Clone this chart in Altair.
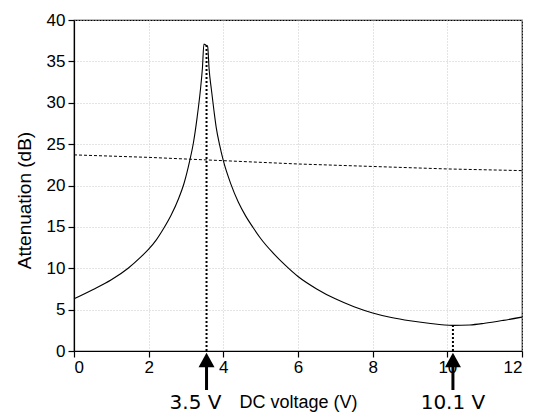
import altair as alt
import pandas as pd

# Measured attenuation curve (solid)
volt = [0.0, 0.5, 1.0, 1.45, 1.8, 2.0, 2.2, 2.4, 2.6, 2.8, 2.95, 3.1, 3.2, 3.3, 3.38, 3.44,
        3.48, 3.52, 3.58, 3.62, 3.68, 3.75, 3.81, 3.9, 4.0, 4.2, 4.4, 4.6, 4.8, 5.0, 5.3, 5.65,
        6.0, 6.5, 7.0, 7.5, 8.0, 8.5, 9.0, 9.5, 10.15, 10.6, 11.0, 11.5, 12.0]
atten = [6.3, 7.4, 8.6, 10.0, 11.4, 12.3, 13.4, 14.8, 16.4, 18.4, 20.3, 23.0, 25.2, 28.3, 31.3, 34.2,
         37.1, 37.0, 36.8, 34.0, 31.6, 29.0, 27.0, 24.9, 23.0, 20.2, 18.0, 16.3, 14.9, 13.6, 12.0, 10.4,
         9.0, 7.5, 6.3, 5.35, 4.6, 4.05, 3.65, 3.35, 3.1, 3.15, 3.35, 3.7, 4.1]

# Reference (dashed) curve
ref_volt = [0, 2, 4, 6, 8, 10, 12]
ref_atten = [23.7, 23.4, 23.0, 22.6, 22.3, 22.0, 21.8]

# Marked voltages
mark_volt = [3.55, 10.15]
mark_atten = [37.0, 3.1]
mark_label = ["3.5 V", "10.1 V"]

curve = pd.DataFrame({"V": volt, "dB": atten})
ref = pd.DataFrame({"V": ref_volt, "dB": ref_atten})
marks = pd.DataFrame({"V": mark_volt, "dB": mark_atten, "label": mark_label, "zero": [0, 0]})

xscale = alt.Scale(domain=[0, 12], nice=False, zero=False)
yscale = alt.Scale(domain=[0, 40], nice=False)

FONT = "Liberation Sans"

xaxis = alt.Axis(
    title="DC voltage (V)",
    values=list(range(0, 13)),
    labelExpr="datum.value % 2 === 0 ? datum.label : ''",
    labelOverlap=False,
    labelFontSize=17, labelFont=FONT, labelColor="black", labelPadding=2,
    titleFontSize=18, titleFont=FONT, titleFontWeight="normal", titleColor="black",
    titlePadding=18,
    tickSize={"condition": {"test": "datum.value % 2 === 0", "value": 6}, "value": 3},
    tickColor="black", tickWidth=1.2,
    domainColor="black", domainWidth=1.2,
    grid=True, gridColor="#c8c8c8", gridDash=[1, 2],
    gridOpacity={"condition": {"test": "datum.value % 2 === 0", "value": 1}, "value": 0},
)
yaxis = alt.Axis(
    title="Attenuation (dB)",
    values=[i * 2.5 for i in range(17)],
    labelExpr="datum.value % 5 === 0 ? datum.label : ''",
    labelOverlap=False,
    labelFontSize=17, labelFont=FONT, labelColor="black", labelPadding=3,
    titleFontSize=19, titleFont=FONT, titleFontWeight="normal", titleColor="black",
    titlePadding=12, titleY=180,
    tickSize={"condition": {"test": "datum.value % 5 === 0", "value": 6}, "value": 3},
    tickColor="black", tickWidth=1.2,
    domainColor="black", domainWidth=1.2,
    grid=True, gridColor="#c8c8c8", gridDash=[1, 2],
    gridOpacity={"condition": {"test": "datum.value % 5 === 0", "value": 1}, "value": 0},
)

solid = alt.Chart(curve).mark_line(color="black", strokeWidth=1.1, interpolate="monotone").encode(
    x=alt.X("V:Q", scale=xscale, axis=xaxis),
    y=alt.Y("dB:Q", scale=yscale, axis=yaxis),
)
dashed = alt.Chart(ref).mark_line(color="black", strokeWidth=1, strokeDash=[3, 2]).encode(
    x="V:Q", y="dB:Q"
)
vlines = alt.Chart(marks).mark_rule(color="black", strokeWidth=2, strokeDash=[2, 2]).encode(
    x="V:Q", y="zero:Q", y2="dB:Q"
)
shafts = alt.Chart(marks).mark_rule(color="black", strokeWidth=3).encode(
    x="V:Q", y=alt.value(346), y2=alt.value(370)
)
heads = alt.Chart(marks).mark_point(
    shape="M0,-0.9L-1,0.9L1,0.9Z", filled=True, color="black", opacity=1, size=256, strokeWidth=0
).encode(x="V:Q", y=alt.value(340))
label1 = alt.Chart(marks).transform_filter("datum.label == '3.5 V'").mark_text(
    font="DejaVu Sans", fontSize=20, color="black", dx=-11, baseline="middle"
).encode(x="V:Q", y=alt.value(383), text="label:N")
label2 = alt.Chart(marks).transform_filter("datum.label == '10.1 V'").mark_text(
    font="DejaVu Sans", fontSize=20, color="black", baseline="middle"
).encode(x="V:Q", y=alt.value(383), text="label:N")

chart = alt.layer(solid, dashed, vlines, shafts, heads, label1, label2).properties(
    width=448, height=331,
    autosize=alt.AutoSizeParams(type="none"),
    padding={"left": 66, "top": 12, "right": 4, "bottom": 62},
    background="white",
).configure_view(stroke="black", strokeWidth=1.2)

chart.save("out.html", embed_options={"renderer": "svg", "actions": False})
